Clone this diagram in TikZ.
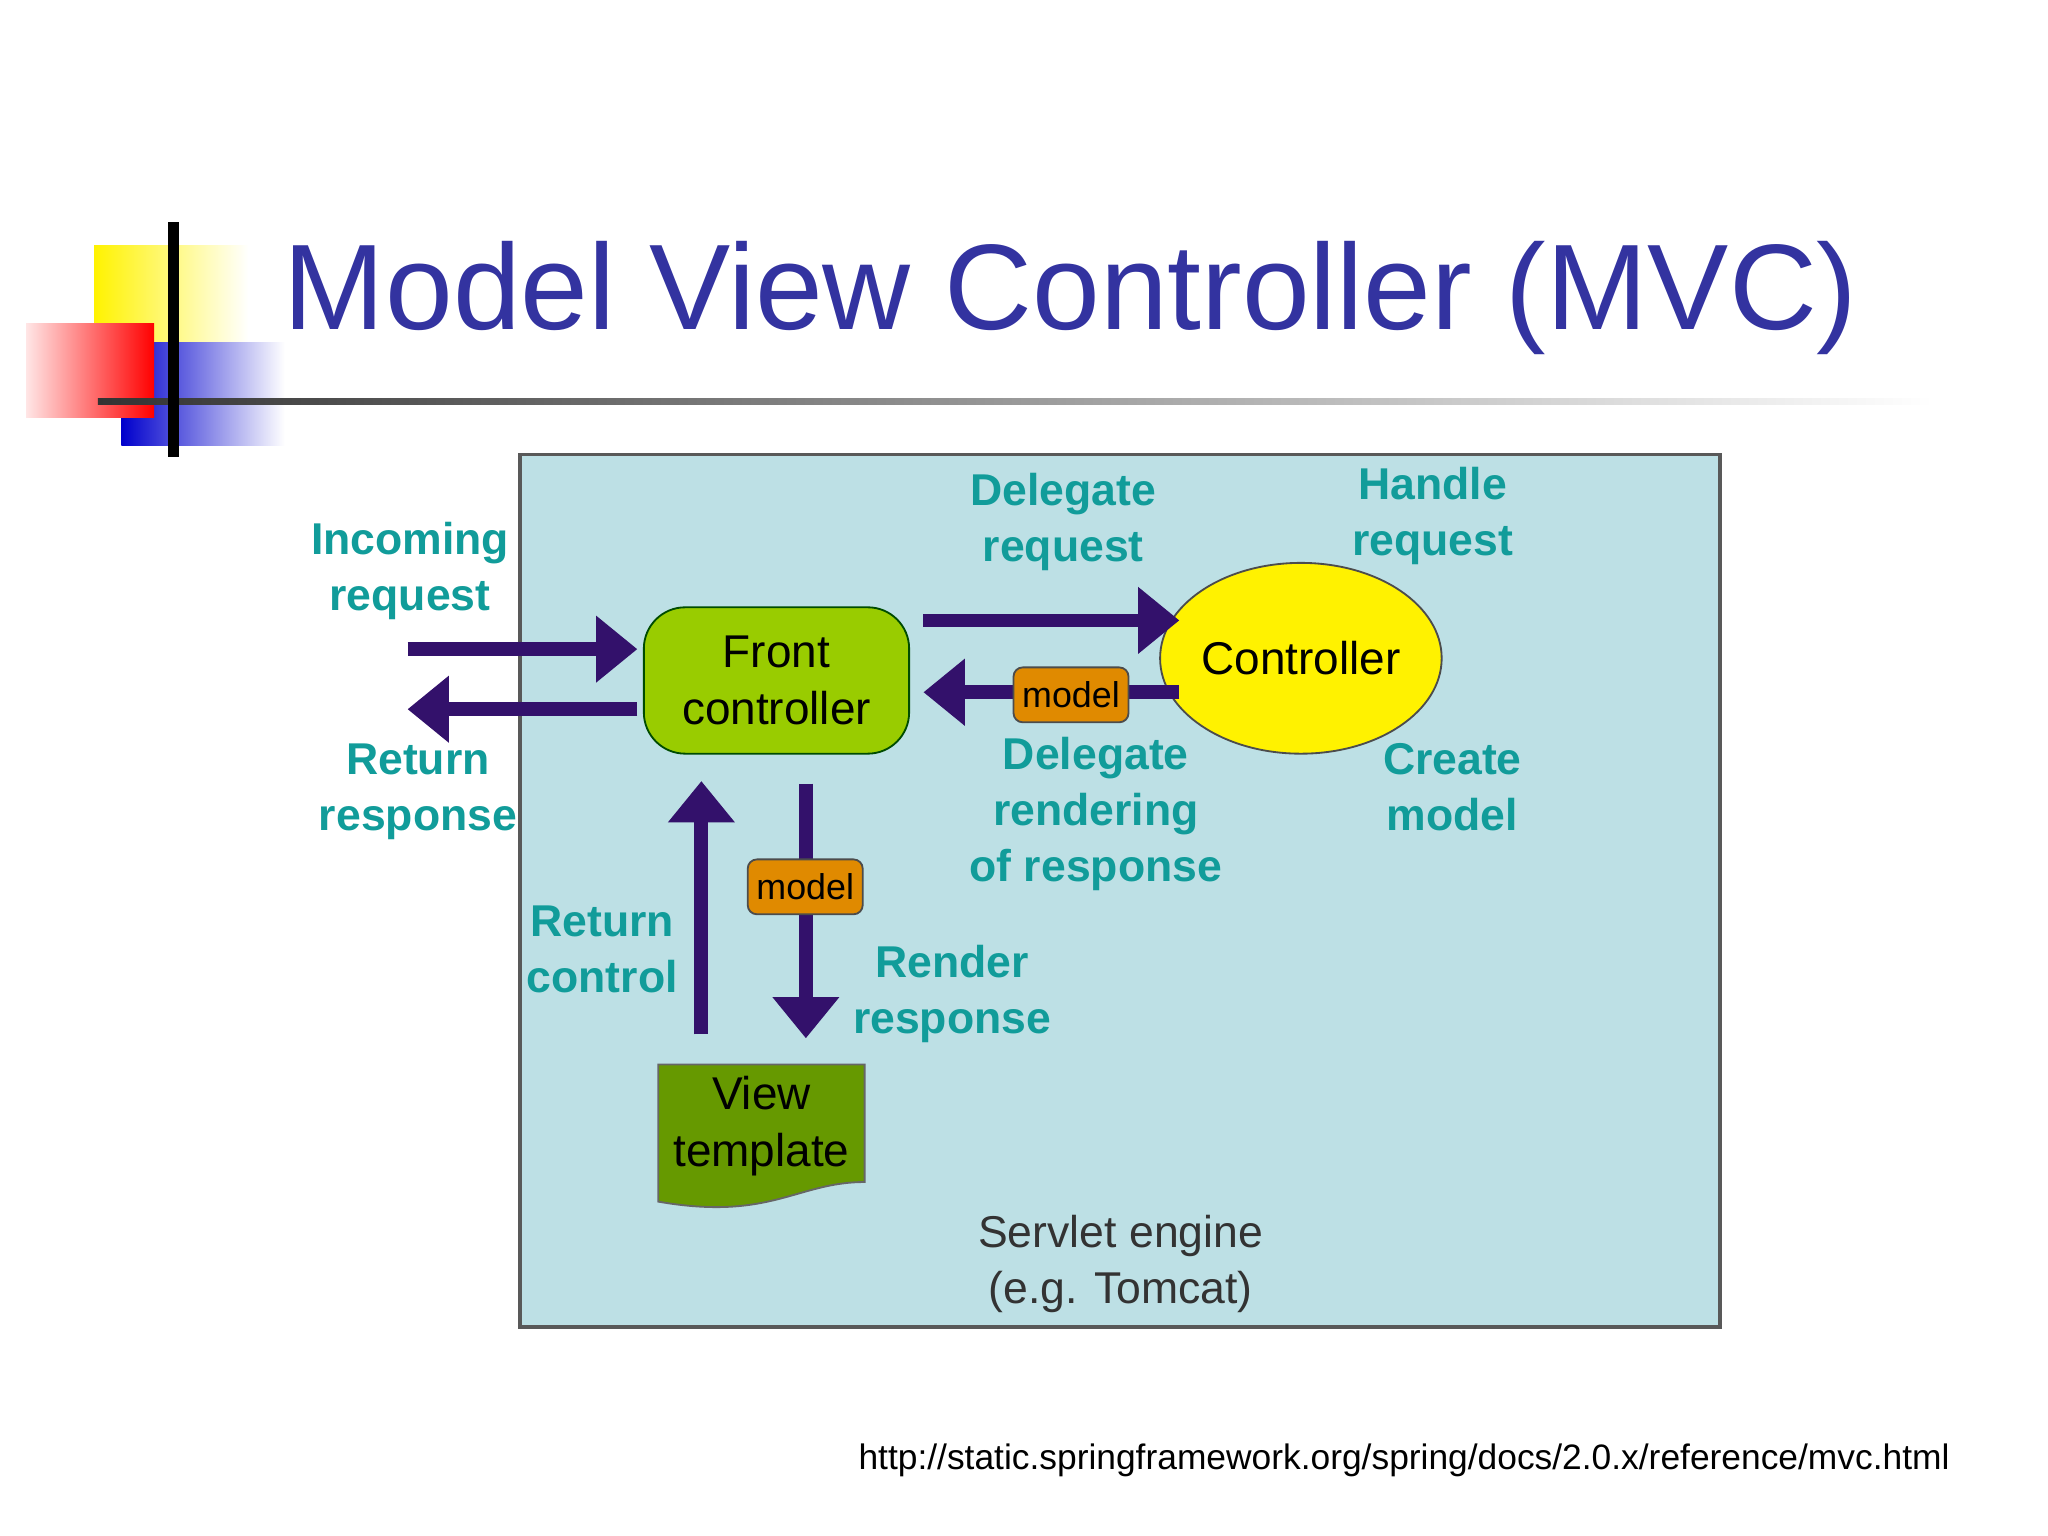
\documentclass[tikz,border=0pt]{standalone}
\usepackage{fontspec}
\setmainfont{Liberation Sans}
\usetikzlibrary{shapes.geometric,arrows.meta}
\definecolor{lbl}{HTML}{119C9A}
\definecolor{arr}{HTML}{33116B}
\definecolor{panel}{HTML}{BDE0E5}
\definecolor{ttl}{HTML}{3333A0}
\definecolor{fcg}{HTML}{99CC00}
\definecolor{vtg}{HTML}{669900}
\definecolor{mdo}{HTML}{E08A00}
\tikzset{
 lab/.style={text=lbl,font=\fontsize{9.7}{12.2}\selectfont\bfseries,align=center},
 fat/.style={draw=arr,line width=3pt,-{Triangle[length=9pt,width=14pt]}},
 modelbox/.style={draw=black!70,fill=mdo,rounded corners=2pt,minimum width=0.88cm,minimum height=0.42cm,inner sep=0pt,font=\fontsize{7.8}{9}\selectfont}
}
\begin{document}
\begin{tikzpicture}[x=0.01cm,y=-0.01cm]
\useasboundingbox (0,0) rectangle (1568,1176);
% decoration
\shade[left color=yellow!90!orange,right color=white] (72,188) rectangle (190,300);
\shade[left color=blue!80!black,right color=white] (93,262) rectangle (218,341);
\shade[left color=white!90!red,right color=red] (20,248) rectangle (118,320);
\shade[left color=black!80,right color=white] (75,305) rectangle (1480,310);
\draw[line width=2.5pt] (133,170) -- (133,350);
\node[text=ttl,font=\fontsize{26.5}{30}\selectfont,anchor=west] (title) at (205,228) {Model View Controller (MVC)};
% panel
\draw[fill=panel,draw=black!65,line width=0.8pt] (398,348) rectangle (1317,1016);
\node[draw=green!30!black,fill=fcg,rounded corners=9pt,minimum width=2.03cm,minimum height=1.12cm,align=center,font=\fontsize{10}{12.5}\selectfont] (fc) at (594.5,521) {Front\\controller};
\node[ellipse,draw=black!70,fill=yellow,minimum width=1.57cm,minimum height=1.46cm,inner sep=0pt,font=\fontsize{10}{12.5}\selectfont] (ctl) at (996,504) {Controller};
\fill[vtg,draw=black!60] (504,815) -- (662,815) -- (662,905) .. controls (610,905) and (590,935) .. (504,920) -- cycle;
\node[align=center,font=\fontsize{10}{12.5}\selectfont] (vt) at (583,862) {View\\template};
% arrows
\coordinate (inA) at (312,497); \coordinate (inB) at (488,497);
\draw[fat] (inA) -- (inB);
\coordinate (rtA) at (488,543); \coordinate (rtB) at (312,543);
\draw[fat] (rtA) -- (rtB);
\coordinate (dgA) at (707,475); \coordinate (dgB) at (903,475);
\draw[fat] (dgA) -- (dgB);
\coordinate (mdA) at (903,530); \coordinate (mdB) at (707,530);
\draw[fat] (mdA) -- (mdB);
\node[modelbox] (m1) at (820,532) {model};
\coordinate (rcA) at (537,792); \coordinate (rcB) at (537,598);
\draw[fat] (rcA) -- (rcB);
\coordinate (rrA) at (617,600); \coordinate (rrB) at (617,795);
\draw[fat] (rrA) -- (rrB);
\node[modelbox] (m2) at (616.5,679) {model};
% labels
\node[lab] (l1) at (314,437) {Incoming\\request};
\node[lab] (l2) at (320,606) {Return\\response};
\node[lab] (l3) at (814,400) {Delegate\\request};
\node[lab] (l4) at (1097,395) {Handle\\request};
\node[lab] (l5) at (839,623) {Delegate\\rendering\\of response};
\node[lab] (l6) at (1112,603) {Create\\model};
\node[lab] (l7) at (461,727) {Return\\control};
\node[lab] (l8) at (729,761) {Render\\response};
\node[align=center,text=black!80,font=\fontsize{9.7}{12.2}\selectfont] (se) at (858,968) {Servlet engine\\(e.g. Tomcat)};
\node[anchor=east,font=\fontsize{7.7}{9}\selectfont] (url) at (1505,1118) {http://static.springframework.org/spring/docs/2.0.x/reference/mvc.html};
\end{tikzpicture}
\end{document}
